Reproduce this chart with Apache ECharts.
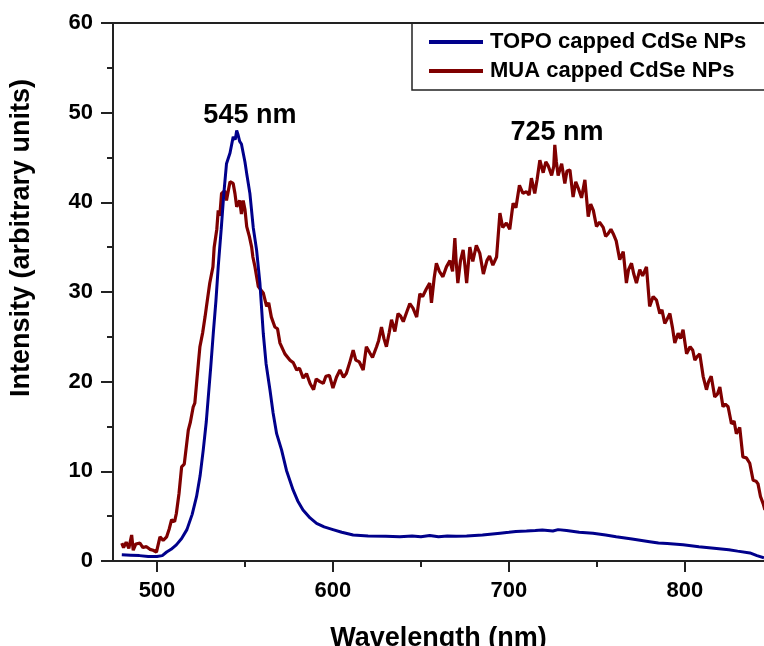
<!DOCTYPE html>
<html>
<head>
<meta charset="utf-8">
<script src="https://cdn.jsdelivr.net/npm/echarts@6/dist/echarts.min.js"></script>
<style>
  html, body { margin: 0; padding: 0; background: #fff; }
  #main { width: 764px; height: 646px; }
</style>
</head>
<body>
<div id="main"></div>
<script>
// TOPO capped CdSe NPs (blue)
const topoX = [480, 485, 490, 495, 500, 503, 505.5, 508, 511, 514, 517, 520, 522.5, 524.5, 526.3, 528, 529, 530.5, 532, 533.5,
  534.8, 536.5, 538, 539.5, 541.5, 543.3, 544.5, 545.3, 546, 547, 548, 549, 550, 551, 552.8, 554.7, 556.6, 558.5, 560.4, 562,
  564.2, 566, 568, 570.8, 573.6, 577.4, 580, 583, 587, 590.7, 595, 600, 605, 611.5, 620, 630, 638, 645, 650, 655,
  660, 665, 670, 676, 685, 695, 700, 704, 710, 715, 719, 725, 728, 732.8, 740, 747.8, 755, 761, 770, 780,
  785, 790, 799, 808, 818, 825, 830, 837, 841, 845];
const topoY = [0.7, 0.65, 0.6, 0.5, 0.5, 0.6, 1.0, 1.3, 1.8, 2.5, 3.5, 5.2, 7.2, 9.5, 12.4, 15.5, 17.9, 21.5, 25.4, 29,
  32.8, 37, 41, 44.3, 45.5, 47.3, 47.0, 48.0, 47.6, 46.8, 46.5, 45.5, 44.5, 43.2, 41, 37.2, 34.7, 31, 25.4, 22,
  19.1, 16.5, 14.2, 12.4, 10.1, 7.9, 6.7, 5.7, 4.8, 4.2, 3.8, 3.5, 3.2, 2.9, 2.8, 2.75, 2.7, 2.8, 2.7, 2.85,
  2.7, 2.8, 2.75, 2.8, 2.9, 3.1, 3.2, 3.3, 3.35, 3.4, 3.45, 3.35, 3.5, 3.4, 3.2, 3.1, 2.9, 2.7, 2.45, 2.15,
  2.0, 1.95, 1.8, 1.6, 1.4, 1.25, 1.1, 0.9, 0.6, 0.35];

// MUA capped CdSe NPs (dark red)
const muaX = [480, 481, 482.5, 484, 485.6, 486.5, 488, 490.3, 492, 494, 496, 497.8, 499.7, 501.7, 503.5, 505.5, 507, 508.3, 510, 511,
  512.5, 514, 515.5, 517.8, 519, 520.6, 521.5, 522.5, 523.5, 524.4, 526, 527.3, 528, 529, 530, 531.8, 532.5, 534, 534.8, 535.7,
  536.7, 538.5, 539.5, 541.5, 543.3, 544.3, 545.3, 547, 548, 549, 550, 551, 552.5, 553.8, 554.5, 555.7, 557.6, 558.5, 560.4, 562.3,
  563.5, 565, 567, 568.5, 569.9, 571, 572.7, 575.6, 577.5, 579.4, 581, 583.1, 585, 587, 589, 590.5, 592.6, 594.5, 596, 598,
  600, 602, 604, 606, 607.6, 609.5, 611.5, 613, 615, 617.2, 619, 621, 622.5, 624.8, 626, 627.6, 629, 630.4, 632, 633.3,
  635.2, 637, 638.5, 640, 642, 643.7, 645.5, 647.6, 649.4, 651, 653, 655, 656, 657.5, 658.8, 660.5, 662.5, 664.5, 666.5, 668,
  669.3, 670, 671, 672.5, 674, 675, 676, 677.8, 679.5, 681.5, 683.5, 685.5, 687.5, 689, 690.9, 693, 694.9, 696.5, 698.6, 700.5,
  702.4, 704, 706, 708, 710, 711.5, 712.8, 714.7, 716, 717.6, 719.5, 721, 722.3, 724.3, 725.5, 726.1, 727, 728, 730, 731.8,
  733, 734.7, 736.5, 738, 739.4, 741.3, 743.2, 745.1, 746.5, 748, 749.8, 751.5, 753.6, 755, 756.4, 758, 759.3, 761, 763, 765,
  766.8, 768, 769.7, 771, 772.5, 774.4, 776, 778.2, 780, 782, 783.9, 785.8, 787, 788.6, 790, 791.5, 793, 794.3, 796.2, 797.5,
  799, 801, 803, 804.5, 805.7, 807, 808.5, 810.4, 812.3, 813.5, 815, 817, 818.5, 819.9, 821.7, 823, 824.6, 826.5, 828, 829.3,
  831.2, 833, 835, 836.9, 838.8, 840.5, 841.6, 843, 844.5, 845.5];
const muaY = [2.0, 1.5, 2.1, 1.4, 2.9, 1.2, 1.9, 2.0, 1.5, 1.6, 1.3, 1.2, 1.0, 2.7, 2.3, 2.7, 3.6, 4.6, 4.4, 5.3,
  7.5, 10.5, 10.8, 14.6, 15.5, 17.2, 17.6, 19.8, 22, 23.9, 25.5, 27.2, 28.2, 28.0, 31, 32.8, 35.0, 37, 39.1, 38.5,
  41.0, 41.3, 40.2, 42.3, 42.1, 41.0, 39.5, 40.2, 38.7, 40.2, 39.2, 37.3, 36.2, 35.0, 33.9, 32.8, 30.6, 30.8, 29.9, 28.4,
  28.8, 27.2, 26.1, 25.9, 24.3, 24.5, 23.1, 22.4, 22.1, 21.3, 21.5, 20.4, 20.9, 19.8, 19.1, 20.3, 20.0, 19.8, 20.6, 20.7,
  19.3, 20.5, 21.3, 20.5, 20.9, 22.1, 23.5, 22.4, 22.2, 21.3, 23.9, 23.2, 22.7, 23.9, 24.6, 26.1, 24.8, 23.9, 25.5, 26.9,
  25.6, 27.6, 27.3, 26.7, 27.8, 28.7, 28.2, 27.2, 29.8, 29.5, 30.3, 31, 28.8, 31.5, 33.2, 32.3, 31.7, 32.8, 33.5, 32.3,
  36.0, 33.5, 31, 33.5, 34.7, 33.0, 31, 35.0, 33.4, 35.2, 34.3, 32, 33.5, 34.0, 33.0, 33.9, 38.8, 37.2, 37.7, 37.0,
  39.9, 39.4, 41.9, 41.0, 41.2, 40.8, 42.7, 41.0, 42.5, 44.7, 43.3, 44.5, 44.1, 43.0, 44.0, 46.4, 44.5, 43.0, 44.3, 42.1,
  43.5, 43.6, 40.6, 42.3, 41.6, 40.5, 42.5, 38.4, 39.8, 39.1, 37.3, 37.8, 37.2, 36.2, 36.5, 37.0, 36.5, 35.7, 33.6, 34.5,
  31, 32.5, 33.2, 32.0, 31, 32.5, 31.8, 32.8, 28.4, 29.5, 29.1, 27.6, 28.0, 26.5, 27.0, 27.6, 26.0, 24.3, 25.4, 24.8,
  25.8, 23.1, 23.9, 23.5, 22.4, 22.8, 23.1, 20.6, 19.1, 20.0, 20.6, 18.3, 18.6, 19.4, 17.2, 17.5, 17.2, 15.3, 15.6, 14.2,
  14.9, 11.6, 11.5, 10.9, 9.0, 8.9, 8.6, 7.2, 6.4, 5.7];

const xMajor = [500, 600, 700, 800];
const xMinor = [550, 650, 750];
const peakLabels = [
  { text: '545 nm', coord: [552.8, 49.7] },
  { text: '725 nm', coord: [727.3, 47.8] }
];

const font = 'Arial, "Liberation Sans", sans-serif';
const axisColor = '#222';

const chart = echarts.init(document.getElementById('main'));

const option = {
  animation: false,
  backgroundColor: '#fff',
  grid: { left: 113, right: 0, top: 23, bottom: 85, containLabel: false, outerBoundsMode: 'none' },
  legend: {
    left: 412,
    top: 23,
    orient: 'vertical',
    icon: 'rect',
    itemWidth: 54,
    itemHeight: 4,
    itemGap: 7,
    padding: [8, 40, 8, 17],
    borderColor: '#222',
    borderWidth: 1.5,
    borderRadius: 0,
    textStyle: { fontFamily: font, fontWeight: 'bold', fontSize: 22, color: '#000', padding: [0, 0, 0, 2] },
    data: ['TOPO capped CdSe NPs', 'MUA capped CdSe NPs']
  },
  xAxis: [
    {
      type: 'value',
      min: 475,
      max: 845,
      position: 'bottom',
      name: 'Wavelength (nm)',
      nameLocation: 'middle',
      nameGap: 64,
      nameTextStyle: { fontFamily: font, fontWeight: 'bold', fontSize: 27, color: '#000' },
      axisLine: { show: true, lineStyle: { color: axisColor, width: 2 } },
      axisTick: { show: true, length: 11, lineStyle: { color: axisColor, width: 2 }, customValues: xMajor },
      axisLabel: { fontFamily: font, fontWeight: 'bold', fontSize: 22, color: '#000', margin: 19, customValues: xMajor },
      splitLine: { show: false }
    },
    {
      type: 'value',
      min: 475,
      max: 845,
      position: 'bottom',
      axisLine: { show: false },
      axisTick: { show: true, length: 6, lineStyle: { color: axisColor, width: 2 }, customValues: xMinor },
      axisLabel: { show: false },
      splitLine: { show: false }
    },
    {
      type: 'value',
      min: 475,
      max: 845,
      position: 'top',
      axisLine: { show: true, lineStyle: { color: axisColor, width: 2 } },
      axisTick: { show: false },
      axisLabel: { show: false },
      splitLine: { show: false }
    }
  ],
  yAxis: {
    type: 'value',
    min: 0,
    max: 60,
    interval: 10,
    axisLine: { show: true, lineStyle: { color: axisColor, width: 2 } },
    axisTick: { show: true, length: 12, lineStyle: { color: axisColor, width: 2 } },
    minorTick: { show: true, splitNumber: 2, length: 6, lineStyle: { color: axisColor, width: 2 } },
    axisLabel: { fontFamily: font, fontWeight: 'bold', fontSize: 22, color: '#000', margin: 20 },
    splitLine: { show: false },
    minorSplitLine: { show: false }
  },
  graphic: [{
    type: 'text',
    x: 22,
    y: 238,
    rotation: Math.PI / 2,
    style: {
      text: 'Intensity (arbitrary units)',
      fontFamily: font,
      fontWeight: 'bold',
      fontSize: 27,
      fill: '#000',
      align: 'center',
      verticalAlign: 'middle'
    }
  }],
  series: [
    {
      name: 'TOPO capped CdSe NPs',
      type: 'line',
      showSymbol: false,
      symbol: 'none',
      color: '#00008b',
      lineStyle: { width: 3, color: '#00008b' },
      data: topoX.map((x, i) => [x, topoY[i]]),
      z: 3,
      markPoint: {
        symbol: 'circle',
        symbolSize: 0,
        label: {
          show: true,
          position: 'inside',
          fontFamily: font,
          fontWeight: 'bold',
          fontSize: 27,
          color: '#000',
          formatter: p => p.name
        },
        data: peakLabels.map(p => ({ name: p.text, coord: p.coord }))
      }
    },
    {
      name: 'MUA capped CdSe NPs',
      type: 'line',
      showSymbol: false,
      symbol: 'none',
      color: '#7f0000',
      lineStyle: { width: 3.2, color: '#7f0000' },
      data: muaX.map((x, i) => [x, muaY[i]]),
      z: 2
    }
  ]
};

chart.setOption(option);
</script>
</body>
</html>
